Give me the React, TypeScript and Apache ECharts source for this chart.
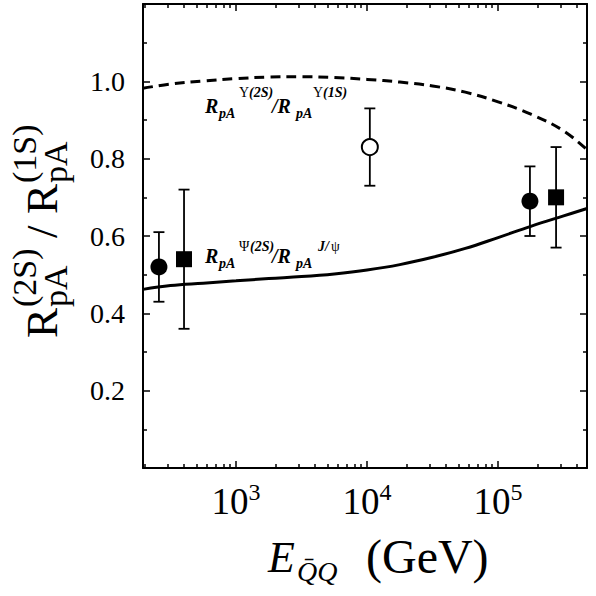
import React, { useEffect, useRef } from "react";
import * as echarts from "echarts";

// Model curves: ratio of excited to ground state R_pA versus pair energy
const curveEnergy = [195, 316, 562, 1000, 1778, 3162, 5623, 10000, 17783, 31623, 56234, 100000, 177828, 316228, 477000];
const upsilonRatio = [0.982, 0.993, 1.001, 1.007, 1.011, 1.012, 1.01, 1.005, 0.998, 0.988, 0.972, 0.947, 0.915, 0.872, 0.823];
const psiRatio = [0.462, 0.472, 0.478, 0.484, 0.49, 0.495, 0.502, 0.512, 0.526, 0.545, 0.568, 0.596, 0.625, 0.652, 0.671];

// Measurements (filled circles)
const circleEnergy = [258, 175000];
const circleRatio = [0.52, 0.69];
const circleLow = [0.43, 0.6];
const circleHigh = [0.61, 0.78];

// Measurements (filled squares)
const squareEnergy = [401, 277000];
const squareRatio = [0.54, 0.7];
const squareLow = [0.36, 0.57];
const squareHigh = [0.72, 0.83];

// Measurement (open circle)
const openEnergy = [10500];
const openRatio = [0.83];
const openLow = [0.73];
const openHigh = [0.93];

// Axis ranges and ticks
const xMin = 195;
const xMax = 477000;
const xMajorTicks = [1000, 10000, 100000];
const xMinorTicks = [
  200, 300, 400, 500, 600, 700, 800, 900,
  2000, 3000, 4000, 5000, 6000, 7000, 8000, 9000,
  20000, 30000, 40000, 50000, 60000, 70000, 80000, 90000,
  200000, 300000, 400000,
];
const yMin = 0;
const yMax = 1.2;
const yStep = 0.2;

const SERIF = "Liberation Serif";
const BLACK = "#000";

function txt(
  text: string,
  x: number,
  baseline: number,
  size: number,
  fontStyle: string = "normal",
  fontWeight: string = "normal"
) {
  return {
    type: "text",
    x,
    y: baseline - 0.34 * size,
    style: {
      text,
      fill: BLACK,
      fontFamily: SERIF,
      fontSize: size,
      fontStyle,
      fontWeight,
      align: "left",
      verticalAlign: "middle",
    },
  };
}

function logAxis(position: string, ticks: number[], length: number, withLine: boolean, withLabels: boolean) {
  return {
    type: "log",
    logBase: 10,
    position,
    min: xMin,
    max: xMax,
    gridIndex: 0,
    axisLine: { show: withLine, lineStyle: { color: BLACK, width: 2 } },
    axisTick: {
      show: true,
      inside: true,
      length,
      customValues: ticks,
      lineStyle: { color: BLACK, width: 1.5 },
    },
    minorTick: { show: false },
    splitLine: { show: false },
    axisLabel: withLabels
      ? {
          show: true,
          customValues: ticks,
          margin: 12,
          fontFamily: SERIF,
          formatter: (v: number) => `{b|10}{s|${Math.round(Math.log10(v))}}`,
          rich: {
            b: { fontFamily: SERIF, fontSize: 37, color: BLACK, lineHeight: 42 },
            s: { fontFamily: SERIF, fontSize: 24, color: BLACK, verticalAlign: "top", lineHeight: 24 },
          },
        }
      : { show: false },
  };
}

function valueAxis(position: string, withLabels: boolean) {
  return {
    type: "value",
    position,
    min: yMin,
    max: yMax,
    interval: yStep,
    axisLine: { show: true, lineStyle: { color: BLACK, width: 2 } },
    axisTick: { show: true, inside: true, length: 7, lineStyle: { color: BLACK, width: 1.5 } },
    minorTick: { show: true, splitNumber: 2, length: 4, lineStyle: { color: BLACK, width: 1.5 } },
    splitLine: { show: false },
    minorSplitLine: { show: false },
    axisLabel: withLabels
      ? {
          show: true,
          margin: 18,
          color: BLACK,
          fontFamily: SERIF,
          fontSize: 28,
          formatter: (v: number) => (v < 0.01 || v > yMax - 0.01 ? "" : v.toFixed(1)),
        }
      : { show: false },
  };
}

export default function App() {
  const ref = useRef<HTMLDivElement>(null);

  useEffect(() => {
    if (!ref.current) return;
    const chart = echarts.init(ref.current, undefined, { renderer: "svg" });

    const pairs = (xs: number[], ys: number[]) => xs.map((x, i) => [x, ys[i]]);
    const bars = (xs: number[], lo: number[], hi: number[]) => xs.map((x, i) => [x, lo[i], hi[i]]);
    const errorData = [
      ...bars(circleEnergy, circleLow, circleHigh),
      ...bars(squareEnergy, squareLow, squareHigh),
      ...bars(openEnergy, openLow, openHigh),
    ];

    const option = {
      animation: false,
      backgroundColor: "#fff",
      textStyle: { fontFamily: SERIF },
      grid: { left: 143, right: 9, top: 4, bottom: 128, containLabel: false },
      xAxis: [
        logAxis("bottom", xMajorTicks, 7, true, true),
        logAxis("bottom", xMinorTicks, 4, false, false),
        logAxis("top", xMajorTicks, 7, true, false),
        logAxis("top", xMinorTicks, 4, false, false),
      ],
      yAxis: [valueAxis("left", true), valueAxis("right", false)],
      series: [
        {
          name: "upsilon",
          type: "line",
          xAxisIndex: 0,
          yAxisIndex: 0,
          data: pairs(curveEnergy, upsilonRatio),
          smooth: 0.4,
          showSymbol: false,
          symbol: "none",
          lineStyle: { color: BLACK, width: 3, type: [10, 6] },
          z: 3,
        },
        {
          name: "psi",
          type: "line",
          xAxisIndex: 0,
          yAxisIndex: 0,
          data: pairs(curveEnergy, psiRatio),
          smooth: 0.4,
          showSymbol: false,
          symbol: "none",
          lineStyle: { color: BLACK, width: 3 },
          z: 3,
        },
        {
          name: "errors",
          type: "custom",
          xAxisIndex: 0,
          yAxisIndex: 0,
          data: errorData,
          encode: { x: 0, y: [1, 2] },
          renderItem: (_params: any, api: any) => {
            const x = api.value(0);
            const lo = api.coord([x, api.value(1)]);
            const hi = api.coord([x, api.value(2)]);
            const cap = 5.5;
            const style = { stroke: BLACK, lineWidth: 1.8 };
            return {
              type: "group",
              children: [
                { type: "line", shape: { x1: lo[0], y1: lo[1], x2: hi[0], y2: hi[1] }, style },
                { type: "line", shape: { x1: lo[0] - cap, y1: lo[1], x2: lo[0] + cap, y2: lo[1] }, style },
                { type: "line", shape: { x1: hi[0] - cap, y1: hi[1], x2: hi[0] + cap, y2: hi[1] }, style },
              ],
            };
          },
          z: 4,
        },
        {
          name: "circles",
          type: "scatter",
          data: pairs(circleEnergy, circleRatio),
          symbol: "circle",
          symbolSize: 17,
          itemStyle: { color: BLACK, opacity: 1 },
          z: 5,
        },
        {
          name: "squares",
          type: "scatter",
          data: pairs(squareEnergy, squareRatio),
          symbol: "rect",
          symbolSize: 16,
          itemStyle: { color: BLACK, opacity: 1 },
          z: 5,
        },
        {
          name: "open",
          type: "scatter",
          data: pairs(openEnergy, openRatio),
          symbol: "circle",
          symbolSize: 16,
          itemStyle: { color: "#fff", borderColor: BLACK, borderWidth: 2, opacity: 1 },
          z: 5,
        },
      ],
      graphic: [
        // Upsilon curve label
        {
          type: "group",
          children: [
            txt("R", 205, 113, 20, "italic", "bold"),
            txt("pA", 219, 118, 14, "italic", "bold"),
            txt("\u03A5", 239, 97, 14),
            txt("(2S)", 249, 97, 14, "italic", "bold"),
            txt("/R", 272, 113, 20, "italic", "bold"),
            txt("pA", 296, 118, 14, "italic", "bold"),
            txt("\u03A5", 313, 97, 14),
            txt("(1S)", 323, 97, 14, "italic", "bold"),
          ],
        },
        // Psi curve label
        {
          type: "group",
          children: [
            txt("R", 205, 263, 20, "italic", "bold"),
            txt("pA", 219, 268, 14, "italic", "bold"),
            txt("\u03A8", 239, 251, 14),
            txt("(2S)", 250, 251, 14, "italic", "bold"),
            txt("/R", 272, 263, 20, "italic", "bold"),
            txt("pA", 296, 268, 14, "italic", "bold"),
            txt("J/", 318, 251, 14, "italic", "bold"),
            txt("\u03C8", 331, 251, 14),
          ],
        },
        // x axis title
        {
          type: "group",
          children: [
            txt("E", 268, 572, 44, "italic"),
            txt("Q\u0304Q", 297, 581, 28, "italic"),
            txt("(GeV)", 366, 573, 48),
          ],
        },
        // y axis title, read bottom to top
        {
          type: "group",
          x: 57,
          y: 338,
          rotation: Math.PI / 2,
          children: [
            txt("R", 0, 0, 45),
            txt("pA", 31, 10, 34),
            txt("(2S)", 31, -21, 34),
            txt("/", 100, 0, 45),
            txt("R", 124, 0, 45),
            txt("pA", 155, 10, 34),
            txt("(1S)", 155, -21, 34),
          ],
        },
      ],
    };

    chart.setOption(option as any);
    return () => chart.dispose();
  }, []);

  return (
    <div
      ref={ref}
      style={{ position: "absolute", left: 0, top: 0, width: 596, height: 596 }}
    />
  );
}
